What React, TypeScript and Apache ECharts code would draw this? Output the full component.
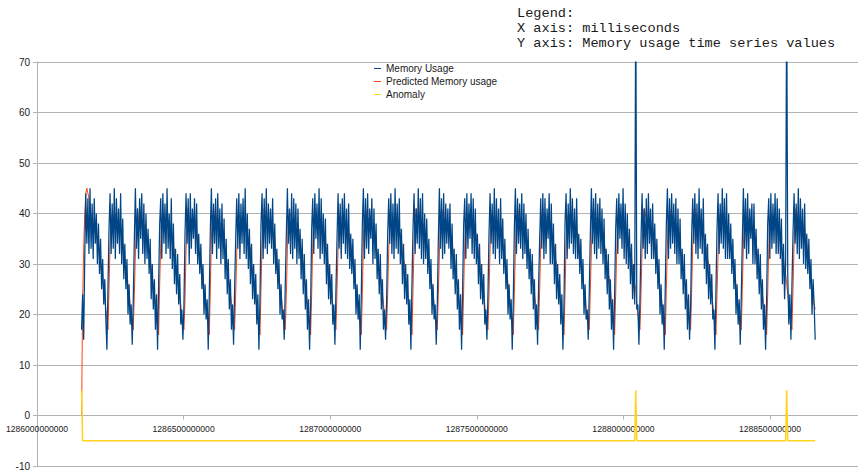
import React, { useEffect, useRef } from "react";
import * as echarts from "echarts";

// Sampling of the time series (ms)
const START_TIME = 1286152000000;
const HOUR_MS = 3600000;

// Memory usage, hourly values, one row per day
const memoryUsage: number[] = [
  17, 24, 15, 31, 44, 34, 43, 32, 45, 33, 42, 31, 43, 34, 40, 30, 38, 28, 35, 25, 31, 22, 27, 19,
  13, 25, 37, 44, 32, 42, 33, 45, 31, 43, 34, 41, 32, 44, 30, 39, 27, 34, 25, 31, 20, 26, 18, 22,
  14, 23, 35, 45, 33, 41, 31, 43, 35, 44, 32, 42, 30, 40, 31, 37, 28, 35, 23, 30, 21, 27, 17, 24,
  13, 26, 38, 43, 31, 44, 34, 42, 32, 45, 33, 40, 31, 43, 29, 38, 26, 33, 24, 32, 22, 28, 18, 21,
  15, 22, 36, 44, 34, 43, 30, 44, 33, 41, 35, 43, 32, 42, 30, 36, 28, 34, 25, 30, 20, 26, 19, 23,
  13, 24, 37, 45, 32, 42, 34, 43, 31, 44, 33, 41, 30, 42, 31, 39, 27, 35, 24, 31, 21, 27, 17, 22,
  14, 25, 35, 43, 33, 44, 31, 42, 34, 43, 32, 45, 31, 40, 29, 37, 26, 34, 23, 30, 22, 28, 18, 24,
  13, 23, 38, 44, 31, 43, 33, 45, 32, 42, 34, 41, 33, 43, 30, 38, 28, 33, 25, 31, 20, 26, 19, 21,
  15, 26, 36, 45, 34, 41, 32, 44, 31, 43, 33, 42, 30, 41, 31, 37, 27, 35, 24, 32, 21, 27, 17, 23,
  13, 22, 37, 43, 32, 44, 35, 42, 33, 45, 31, 43, 32, 40, 30, 39, 26, 34, 23, 30, 22, 28, 18, 22,
  14, 25, 35, 44, 33, 42, 31, 43, 34, 44, 32, 41, 31, 42, 29, 36, 28, 35, 25, 31, 20, 26, 19, 24,
  13, 24, 38, 45, 31, 43, 33, 44, 32, 41, 35, 43, 30, 41, 31, 38, 27, 33, 24, 32, 21, 27, 17, 21,
  15, 23, 36, 43, 34, 44, 32, 42, 31, 45, 33, 42, 32, 43, 30, 37, 26, 34, 23, 30, 22, 28, 18, 23,
  13, 26, 37, 44, 32, 41, 34, 45, 33, 43, 31, 44, 30, 40, 31, 39, 28, 35, 25, 31, 20, 26, 19, 22,
  14, 22, 35, 45, 33, 43, 31, 44, 32, 42, 34, 41, 33, 42, 29, 38, 27, 33, 24, 32, 21, 27, 17, 24,
  13, 25, 38, 43, 31, 44, 33, 42, 35, 44, 32, 43, 31, 41, 30, 36, 26, 34, 23, 30, 22, 28, 18, 21,
  15, 24, 36, 44, 34, 42, 32, 45, 31, 43, 33, 41, 30, 43, 31, 39, 28, 35, 25, 31, 20, 26, 19, 23,
  13, 23, 37, 45, 32, 43, 34, 42, 33, 44, 31, 42, 32, 40, 29, 37, 27, 33, 24, 32, 21, 27, 17, 22,
  14, 26, 35, 43, 33, 44, 31, 43, 32, 41, 35, 44, 30, 42, 30, 38, 26, 34, 23, 30, 22, 28, 18, 24,
  13, 22, 38, 44, 31, 42, 33, 45, 34, 43, 32, 41, 31, 43, 31, 36, 28, 35, 25, 31, 20, 26, 19, 21,
  15, 25, 36, 45, 34, 43, 32, 44, 31, 42, 33, 43, 32, 41, 30, 39, 27, 33, 24, 32, 21, 27, 17, 23,
  13, 24, 37, 43, 32, 44, 35, 42, 33, 45, 31, 42, 30, 40, 29, 37, 26, 34, 23, 30, 22, 85, 21, 22,
  14, 23, 35, 44, 33, 41, 31, 43, 32, 44, 34, 41, 31, 42, 31, 38, 28, 35, 25, 31, 20, 26, 18, 22,
  13, 26, 38, 45, 31, 43, 33, 44, 34, 42, 32, 43, 30, 41, 30, 39, 27, 33, 24, 32, 21, 27, 17, 24,
  15, 22, 36, 43, 34, 44, 32, 42, 31, 45, 33, 41, 32, 43, 29, 36, 26, 34, 23, 30, 22, 28, 19, 21,
  13, 25, 37, 44, 32, 42, 34, 45, 33, 43, 31, 44, 31, 40, 31, 38, 28, 35, 25, 31, 20, 26, 18, 23,
  14, 24, 35, 45, 33, 43, 31, 44, 32, 41, 35, 42, 30, 42, 30, 37, 27, 33, 24, 32, 21, 27, 17, 22,
  13, 23, 38, 43, 31, 44, 33, 42, 34, 44, 32, 43, 32, 41, 31, 39, 26, 34, 23, 30, 85, 28, 18, 24,
  15, 26, 36, 44, 34, 42, 32, 45, 31, 43, 33, 41, 30, 42, 29, 36, 28, 35, 25, 31, 20, 27, 22, 15,
];

// Predicted memory usage, hourly values, one row per day
const predictedUsage: number[] = [
  0, 22, 33, 40, 44, 45, 44, 43, 40, 38, 39, 37, 38, 36, 36, 34, 33, 32, 30, 28, 27, 25, 23, 21,
  19, 17, 25, 34, 38, 40, 39, 38, 40, 38, 37, 38, 36, 38, 35, 34, 33, 31, 30, 28, 26, 25, 22, 20,
  18, 17, 24, 32, 37, 41, 38, 40, 38, 39, 36, 38, 37, 36, 35, 35, 32, 31, 29, 27, 26, 24, 22, 20,
  19, 16, 26, 34, 39, 40, 38, 39, 37, 39, 37, 37, 36, 36, 34, 34, 32, 30, 29, 27, 25, 23, 22, 19,
  18, 17, 23, 33, 38, 41, 39, 38, 39, 38, 37, 39, 36, 36, 35, 33, 32, 31, 29, 28, 25, 24, 21, 20,
  19, 16, 25, 35, 39, 41, 39, 40, 38, 39, 36, 38, 38, 36, 35, 34, 33, 31, 30, 27, 26, 24, 22, 20,
  18, 17, 24, 32, 37, 40, 39, 39, 39, 37, 38, 37, 37, 36, 35, 34, 33, 30, 29, 27, 26, 23, 22, 19,
  19, 16, 25, 34, 38, 41, 39, 38, 39, 38, 38, 37, 37, 36, 34, 35, 32, 31, 29, 28, 25, 24, 22, 20,
  18, 17, 24, 33, 39, 40, 40, 39, 38, 37, 38, 38, 38, 36, 35, 34, 33, 31, 30, 27, 26, 24, 22, 20,
  19, 16, 24, 34, 38, 41, 39, 39, 38, 40, 37, 38, 36, 37, 35, 35, 32, 31, 29, 28, 26, 24, 22, 20,
  18, 17, 25, 33, 38, 40, 39, 39, 37, 39, 37, 38, 36, 37, 34, 34, 32, 31, 29, 27, 25, 24, 21, 19,
  19, 16, 24, 34, 39, 41, 40, 38, 39, 38, 38, 37, 37, 36, 34, 34, 32, 30, 29, 28, 26, 24, 22, 20,
  18, 17, 24, 33, 38, 40, 40, 39, 37, 39, 38, 38, 37, 37, 35, 35, 32, 31, 30, 28, 25, 24, 22, 20,
  19, 16, 25, 34, 39, 41, 39, 40, 38, 39, 37, 37, 38, 36, 35, 34, 33, 30, 29, 27, 26, 24, 22, 20,
  18, 17, 24, 32, 38, 41, 40, 38, 39, 38, 38, 37, 37, 36, 34, 35, 32, 31, 29, 27, 26, 24, 21, 20,
  19, 16, 25, 34, 38, 40, 40, 39, 39, 39, 37, 38, 37, 37, 35, 34, 32, 31, 29, 28, 25, 24, 22, 19,
  18, 17, 24, 33, 39, 40, 39, 39, 38, 39, 37, 38, 36, 37, 34, 34, 32, 31, 29, 28, 26, 25, 22, 20,
  19, 16, 24, 33, 38, 41, 40, 39, 39, 38, 37, 36, 37, 36, 34, 34, 32, 31, 30, 28, 26, 24, 22, 20,
  18, 17, 25, 34, 39, 41, 39, 40, 39, 37, 38, 37, 38, 36, 35, 34, 33, 31, 30, 27, 26, 24, 22, 20,
  19, 16, 24, 34, 38, 40, 40, 38, 39, 39, 37, 38, 37, 37, 35, 35, 32, 30, 29, 27, 25, 24, 21, 19,
  18, 17, 25, 33, 38, 41, 40, 39, 39, 38, 38, 37, 38, 36, 35, 34, 33, 31, 30, 28, 27, 25, 22, 20,
  19, 16, 24, 33, 38, 41, 39, 39, 38, 40, 37, 38, 36, 37, 34, 34, 32, 31, 29, 28, 26, 25, 22, 20,
  18, 17, 24, 33, 39, 41, 40, 39, 39, 37, 38, 38, 36, 37, 34, 35, 32, 31, 29, 28, 25, 24, 22, 20,
  19, 16, 25, 34, 38, 41, 40, 38, 39, 39, 37, 38, 37, 37, 35, 34, 32, 30, 29, 27, 26, 24, 22, 20,
  18, 17, 25, 34, 39, 41, 39, 40, 38, 39, 37, 38, 37, 36, 35, 34, 33, 31, 30, 28, 26, 24, 22, 20,
  19, 16, 24, 32, 38, 40, 40, 39, 39, 38, 38, 37, 37, 36, 34, 34, 32, 31, 30, 28, 26, 24, 21, 19,
  18, 17, 25, 34, 38, 41, 39, 39, 39, 38, 37, 38, 37, 37, 35, 35, 32, 31, 29, 27, 25, 24, 22, 20,
  19, 16, 24, 33, 39, 40, 40, 39, 38, 38, 38, 37, 37, 36, 34, 34, 32, 31, 29, 28, 26, 24, 22, 20,
  18, 17, 25, 34, 39, 41, 39, 40, 38, 39, 37, 38, 37, 37, 35, 34, 32, 30, 29, 27, 25, 23, 22, 21,
];

// Anomaly flag series: hour index and value at each change
const anomalyHours: number[] = [0, 1, 524, 525, 526, 667, 668, 669, 695];
const anomalyValues: number[] = [5, -5, -5, 5, -5, -5, 5, -5, -5];

const seriesNames = ["Memory Usage", "Predicted Memory usage", "Anomaly"];
const seriesColors = ["#004586", "#ff420e", "#ffd320"];

const noteLines = [
  "Legend:",
  "X axis: milliseconds",
  "Y axis: Memory usage time series values",
];

const X_MIN = 1286000000000;
const X_MAX = 1288800000000;
const X_STEP = 500000000;
const Y_MIN = -10;
const Y_MAX = 70;
const Y_STEP = 10;

const GRID_TOP = 62;
const GRID_HEIGHT = 404;

const AXIS_FONT = "'Liberation Sans', Arial, sans-serif";

export default function App() {
  const ref = useRef<HTMLDivElement>(null);

  useEffect(() => {
    if (!ref.current) return;
    const chart = echarts.init(ref.current, undefined, { renderer: "svg" });

    const memData = memoryUsage.map((v, i) => [START_TIME + i * HOUR_MS, v]);
    const predData = predictedUsage.map((v, i) => [START_TIME + i * HOUR_MS, v]);
    const anomData = anomalyHours.map((h, i) => [START_TIME + h * HOUR_MS, anomalyValues[i]]);

    // the x axis crosses the y axis at value 0
    const zeroOffset = -(GRID_HEIGHT * (0 - Y_MIN)) / (Y_MAX - Y_MIN);

    chart.setOption({
      animation: false,
      backgroundColor: "#ffffff",
      grid: {
        left: 37,
        top: GRID_TOP,
        width: 821,
        height: GRID_HEIGHT,
        containLabel: false,
        outerBoundsMode: "none",
      },
      legend: {
        orient: "vertical",
        left: 374,
        top: 63,
        icon: "rect",
        itemWidth: 7,
        itemHeight: 1,
        itemGap: 2,
        padding: 0,
        data: seriesNames,
        textStyle: {
          fontFamily: AXIS_FONT,
          fontSize: 10,
          lineHeight: 11,
          color: "#1a1a1a",
        },
      },
      xAxis: {
        type: "value",
        min: X_MIN,
        max: X_MAX,
        interval: X_STEP,
        position: "bottom",
        offset: zeroOffset,
        axisLine: { onZero: false, lineStyle: { color: "#b3b3b3", width: 1 } },
        axisTick: { show: true, length: 4, lineStyle: { color: "#b3b3b3" } },
        splitLine: { show: false },
        axisLabel: {
          showMaxLabel: false,
          margin: 9,
          fontFamily: AXIS_FONT,
          fontSize: 8.6,
          color: "#1a1a1a",
          formatter: (v: number) => String(Math.round(v)),
        },
      },
      yAxis: {
        type: "value",
        min: Y_MIN,
        max: Y_MAX,
        interval: Y_STEP,
        axisLine: { show: true, onZero: false, lineStyle: { color: "#b3b3b3", width: 1 } },
        axisTick: { show: true, length: 4, lineStyle: { color: "#b3b3b3" } },
        splitLine: { show: true, lineStyle: { color: "#b3b3b3", width: 1 } },
        axisLabel: {
          margin: 7,
          fontFamily: AXIS_FONT,
          fontSize: 10,
          color: "#1a1a1a",
        },
      },
      graphic: noteLines.map((t, i) => ({
        type: "text",
        left: 517,
        top: 6 + i * 15,
        style: {
          text: t,
          fontFamily: "'Liberation Mono', 'DejaVu Sans Mono', monospace",
          fontSize: 13.6,
          fill: "#1a1a1a",
        },
      })),
      series: [
        {
          name: seriesNames[0],
          type: "line",
          data: memData,
          color: seriesColors[0],
          showSymbol: false,
          symbol: "none",
          lineStyle: { color: seriesColors[0], width: 1.25 },
          z: 3,
          clip: true,
        },
        {
          name: seriesNames[1],
          type: "line",
          data: predData,
          color: seriesColors[1],
          showSymbol: false,
          symbol: "none",
          lineStyle: { color: seriesColors[1], width: 1 },
          z: 2,
          clip: true,
        },
        {
          name: seriesNames[2],
          type: "line",
          data: anomData,
          color: seriesColors[2],
          showSymbol: false,
          symbol: "none",
          lineStyle: { color: seriesColors[2], width: 1.5 },
          z: 4,
          clip: true,
        },
      ],
    });

    return () => chart.dispose();
  }, []);

  return (
    <div
      ref={ref}
      style={{ position: "fixed", left: 0, top: 0, width: 858, height: 471, background: "#fff" }}
    />
  );
}
